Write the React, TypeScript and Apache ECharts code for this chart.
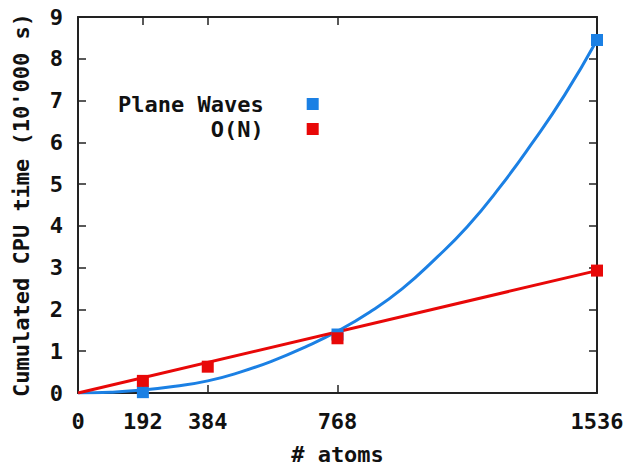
import React, { useEffect, useRef } from "react";
import * as echarts from "echarts";

const xTicks = [0, 192, 384, 768, 1536];
const innerXTicks = [192, 384, 768];
const pwPoints: [number, number][] = [
  [192, 0.02],
  [768, 1.4],
  [1536, 8.45],
];
const onPoints: [number, number][] = [
  [192, 0.29],
  [384, 0.63],
  [768, 1.31],
  [1536, 2.93],
];
const pwCurve: [number, number][] = [
  [0, 0], [96, 0.02], [192, 0.07], [288, 0.16], [384, 0.29], [480, 0.5],
  [576, 0.77], [672, 1.1], [768, 1.48], [864, 1.94], [960, 2.5],
  [1056, 3.2], [1152, 3.98], [1248, 4.92], [1344, 5.98], [1440, 7.13],
  [1536, 8.45],
];
const onCurve: [number, number][] = [
  [0, 0],
  [1536, 2.93],
];

const BLUE = "#1b80e4";
const RED = "#e80808";
const FONT = "DejaVu Sans Mono";

export default function App() {
  const ref = useRef<HTMLDivElement>(null);
  useEffect(() => {
    const chart = echarts.init(ref.current!, null, { renderer: "svg" });
    const axisLine = { show: true, onZero: false, lineStyle: { color: "#222", width: 2 } };
    const tickStyle = { color: "#222", width: 1.5 };
    const labelStyle = { color: "#111", fontFamily: FONT, fontWeight: "bold" as const, fontSize: 22 };
    chart.setOption({
      animation: false,
      backgroundColor: "#fff",
      grid: { left: 78, right: 36, top: 17, bottom: 74, outerBoundsMode: "none", containLabel: false },
      legend: {
        data: ["Plane Waves", "O(N)"],
        orient: "vertical",
        align: "right",
        left: 113,
        top: 88,
        icon: "rect",
        itemWidth: 12,
        itemHeight: 12,
        itemGap: 3,
        formatter: "{a|{name}}",
        itemStyle: { opacity: 1 },
        textStyle: {
          ...labelStyle,
          rich: { a: { ...labelStyle, lineHeight: 16, padding: [0, 38, 0, 0] } },
        },
      },
      xAxis: [
        {
          type: "value",
          min: 0,
          max: 1536,
          name: "# atoms",
          nameLocation: "middle",
          nameGap: 50,
          nameTextStyle: labelStyle,
          axisLine,
          splitLine: { show: false },
          axisTick: { show: true, inside: true, length: 8, customValues: innerXTicks, lineStyle: tickStyle },
          axisLabel: { ...labelStyle, margin: 17, customValues: xTicks, formatter: (v: number) => String(v) },
        },
        {
          type: "value",
          position: "top",
          min: 0,
          max: 1536,
          axisLine,
          splitLine: { show: false },
          axisTick: { show: true, inside: true, length: 8, customValues: innerXTicks, lineStyle: tickStyle },
          axisLabel: { show: false },
        },
      ],
      yAxis: [
        {
          type: "value",
          min: 0,
          max: 9,
          interval: 1,
          name: "Cumulated CPU time (10'000 s)",
          nameLocation: "middle",
          nameGap: 46,
          nameTextStyle: labelStyle,
          axisLine,
          splitLine: { show: false },
          axisTick: { show: true, inside: true, length: 8, lineStyle: tickStyle },
          axisLabel: { ...labelStyle, margin: 15 },
        },
        {
          type: "value",
          position: "right",
          min: 0,
          max: 9,
          interval: 1,
          axisLine,
          splitLine: { show: false },
          axisTick: { show: true, inside: true, length: 8, lineStyle: tickStyle },
          axisLabel: { show: false },
        },
      ],
      series: [
        {
          name: "Plane Waves fit",
          type: "line",
          data: pwCurve,
          smooth: 0.5,
          showSymbol: false,
          lineStyle: { color: BLUE, width: 3 },
          itemStyle: { color: BLUE },
          z: 2,
        },
        {
          name: "O(N) fit",
          type: "line",
          data: onCurve,
          showSymbol: false,
          lineStyle: { color: RED, width: 3 },
          itemStyle: { color: RED },
          z: 3,
        },
        {
          name: "Plane Waves",
          type: "scatter",
          data: pwPoints,
          symbol: "rect",
          symbolSize: 12,
          itemStyle: { color: BLUE, opacity: 1 },
          z: 4,
        },
        {
          name: "O(N)",
          type: "scatter",
          data: onPoints,
          symbol: "rect",
          symbolSize: 12,
          itemStyle: { color: RED, opacity: 1 },
          z: 5,
        },
      ],
    });
    return () => chart.dispose();
  }, []);
  return <div ref={ref} style={{ width: 633, height: 467, position: "absolute", left: 0, top: 0 }} />;
}
